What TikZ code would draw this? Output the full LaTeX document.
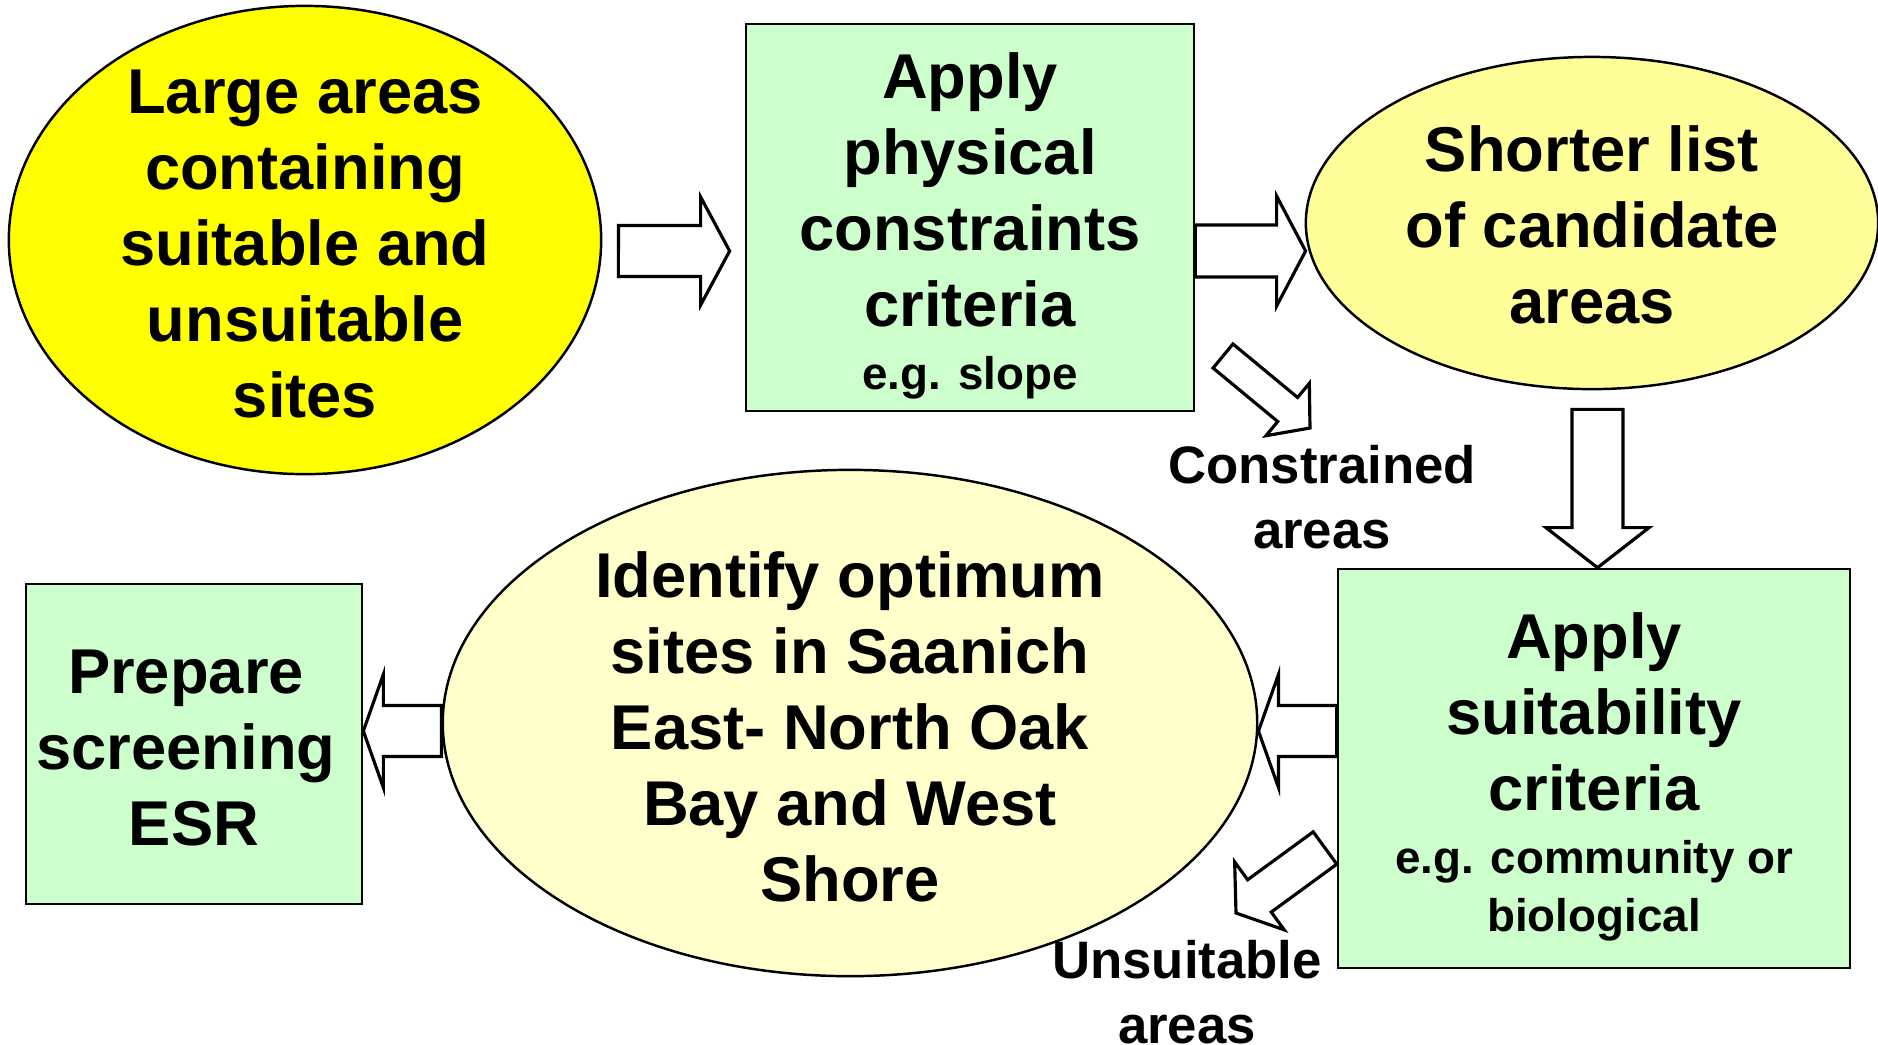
\documentclass[tikz,border=0pt]{standalone}
\usepackage{fontspec}
\setmainfont{Liberation Sans}
\usetikzlibrary{shapes.geometric,calc,positioning}

\definecolor{boxgreen}{HTML}{CCFFCC}
\definecolor{strongyellow}{HTML}{FFFF00}
\definecolor{midyellow}{HTML}{FFFF99}
\definecolor{paleyellow}{HTML}{FFFFCC}

\newcommand\bigtxt{\fontsize{18}{21.6}\selectfont\bfseries}
\newcommand\smalltxt{\fontsize{13}{16.4}\selectfont\bfseries}
\newcommand\labtxt{\fontsize{15}{18.5}\selectfont\bfseries}

\tikzset{
    greenbox/.style={draw, fill=boxgreen, line width=0.7pt, inner sep=0pt},
    stageell/.style={draw, ellipse, line width=0.7pt, inner sep=0pt},
    stagetxt/.style={align=center, font=\bigtxt},
    sidelabel/.style={align=center, font=\labtxt},
    % hollow block arrow: shaft half width / head half width / head length
    blockarrow/.style args={#1/#2/#3}{draw, fill=white, line width=0.9pt,
        to path={let \p1=($(\tikztotarget)!#3!(\tikztostart)$) in
            ($(\tikztostart)!#1!90:(\tikztotarget)$) -- ($(\p1)!#1!-90:(\tikztostart)$)
            -- ($(\p1)!#2!-90:(\tikztostart)$) -- (\tikztotarget)
            -- ($(\p1)!#2!90:(\tikztostart)$) -- ($(\p1)!#1!90:(\tikztostart)$)
            -- ($(\tikztostart)!#1!-90:(\tikztotarget)$) -- cycle}}
}

\begin{document}
\begin{tikzpicture}[x=0.01cm, y=-0.01cm]
\useasboundingbox (0,0) rectangle (1878,1044);

% stages
\node[stageell, fill=strongyellow, minimum width=5.92cm, minimum height=4.68cm] (large) at (305,240) {};
\node[stagetxt] at ([yshift=-0.04cm]large.center) {Large areas\\containing\\suitable and\\unsuitable\\sites};

\node[greenbox, minimum width=4.48cm, minimum height=3.87cm] (phys) at (970,217.5) {};
\node[stagetxt] at ([yshift=-0.085cm]phys.center)
    {Apply\\physical\\constraints\\criteria\\[-3.85pt]{\smalltxt e.g. slope}};

\node[stageell, fill=midyellow, minimum width=5.72cm, minimum height=3.32cm] (short) at (1592,223) {};
\node[stagetxt] at ([yshift=-0.015cm]short.center) {Shorter list\\of candidate\\areas};

\node[greenbox, minimum width=5.12cm, minimum height=3.99cm] (suit) at (1594,768.5) {};
\node[stagetxt] at ([yshift=-0.085cm]suit.center)
    {Apply\\suitability\\criteria\\[-3.6pt]{\smalltxt e.g. community or}\\[-5.24pt]{\smalltxt biological}};

\node[stageell, fill=paleyellow, minimum width=8.14cm, minimum height=5.06cm] (opt) at (850,723) {};
\node[stagetxt] at ([yshift=-0.04cm]opt.center) {Identify optimum\\sites in Saanich\\East- North Oak\\Bay and West\\Shore};

\node[greenbox, minimum width=3.36cm, minimum height=3.20cm] (prep) at (194,744) {};
\node[stagetxt] at ([yshift=-0.04cm]prep.center) {Prepare\rule{0.16cm}{0pt}\\screening\rule{0.16cm}{0pt}\\ESR};

% side outputs
\node[sidelabel] (constr) at (1322,497) {Constrained\\areas};
\node[sidelabel] (unsuit) at (1187,992) {Unsuitable\\areas};
\coordinate (constr tail) at (1223,356);
\coordinate (constr tip) at (1310,428);
\coordinate (unsuit tail) at (1325,848);
\coordinate (unsuit tip) at (1236,913);

% arrows
\draw[blockarrow=0.255cm/0.54cm/0.29cm] ([xshift=0.16cm,yshift=-0.11cm]large.east) to ([xshift=-0.15cm,yshift=-0.335cm]phys.west);
\draw[blockarrow=0.26cm/0.55cm/0.29cm] ([yshift=-0.335cm]phys.east) to ([xshift=0.01cm,yshift=-0.28cm]short.west);
\draw[blockarrow=0.255cm/0.515cm/0.40cm] ([xshift=0.055cm,yshift=-0.19cm]short.south) to ([xshift=0.035cm]suit.north);
\draw[blockarrow=0.255cm/0.565cm/0.20cm] ([yshift=0.375cm]suit.west) to ([yshift=-0.08cm]opt.east);
\draw[blockarrow=0.255cm/0.565cm/0.20cm] ([yshift=-0.08cm]opt.west) to ([yshift=0.13cm]prep.east);
\draw[blockarrow=0.156cm/0.34cm/0.29cm] (constr tail) to (constr tip);
\draw[blockarrow=0.20cm/0.42cm/0.29cm] (unsuit tail) to (unsuit tip);

\end{tikzpicture}
\end{document}
